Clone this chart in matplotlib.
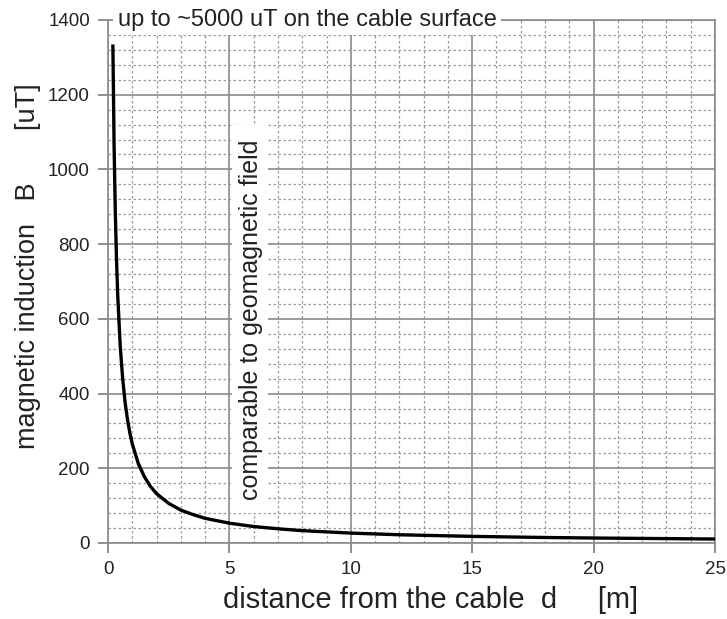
import numpy as np
import matplotlib
matplotlib.use("Agg")
import matplotlib.pyplot as plt
from matplotlib.patches import Rectangle
from matplotlib.ticker import MultipleLocator

plt.rcParams['font.family'] = ['Liberation Sans', 'DejaVu Sans']

# values (distance in m, induction in uT)
distance_m = [0.2, 0.25, 0.3, 0.35, 0.4, 0.5, 0.6, 0.7, 0.8, 0.9, 1.0, 1.25, 1.5,
              1.75, 2.0, 2.5, 3.0, 3.5, 4.0, 5.0, 6.0, 7.0, 8.0, 10.0, 12.0,
              15.0, 18.0, 20.0, 25.0]
induction_uT = [1330, 1060, 885, 757, 662, 530, 442, 378, 331, 294, 265, 212, 177,
                151, 132, 106, 88, 76, 66, 53, 44, 38, 33, 26.5, 22,
                17.7, 14.7, 13.3, 10.6]

top_note = "up to ~5000 uT on the cable surface"
geo_note = "comparable to geomagnetic field"

fig = plt.figure(figsize=(7.27, 6.19), dpi=100)
ax = fig.add_axes([0.1486, 0.1228, 0.8349, 0.8449])

ax.plot(distance_m, induction_uT, color='black', linewidth=2.4, zorder=4)

ax.set_xlim(0, 25)
ax.set_ylim(0, 1400)
ax.xaxis.set_major_locator(MultipleLocator(5))
ax.xaxis.set_minor_locator(MultipleLocator(1))
ax.yaxis.set_major_locator(MultipleLocator(200))
ax.yaxis.set_minor_locator(MultipleLocator(40))

ax.grid(which='major', color='#8a8a8a', linewidth=1.2, linestyle='-')
ax.grid(which='minor', color='#9a9a9a', linewidth=0.9, linestyle=(0, (2, 2)))
ax.set_axisbelow(True)

for s in ax.spines.values():
    s.set_color('#8a8a8a')
    s.set_linewidth(1.2)

ax.tick_params(which='major', direction='out', length=7, width=1.1, color='#707070',
               labelsize=13.5, labelcolor='#222222', pad=6)
ax.tick_params(which='minor', length=0)

ax.set_xlabel("distance from the cable  d     [m]", fontsize=21, color='#222222')
ax.xaxis.set_label_coords(0.532, -0.082)
ax.set_ylabel("magnetic induction   B       [uT]", fontsize=19.5, color='#222222')
ax.yaxis.set_label_coords(-0.132, 0.530)
ax.yaxis.label.set_va('center')

ax.text(0.016, 1.0, top_note, transform=ax.transAxes, fontsize=17, color='#222222',
        ha='left', va='center', zorder=5, clip_on=False,
        bbox=dict(facecolor='white', edgecolor='none', pad=3))

# white strip behind the vertical note
ax.add_patch(Rectangle((5.12, 80), 1.48, 1040, facecolor='white', edgecolor='none', zorder=3))
ax.text(5.87, 597, geo_note, rotation=90, fontsize=18, color='#222222',
        ha='center', va='center', zorder=5)

fig.savefig("out.png", dpi=100, facecolor='white')
